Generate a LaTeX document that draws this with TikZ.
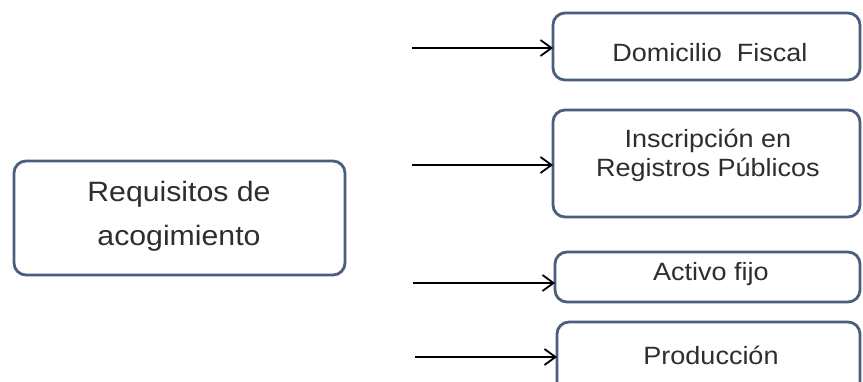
\documentclass[tikz,border=0pt]{standalone}
\usepackage{fontspec}
\setmainfont{Liberation Sans}
\newfontfamily\boxfont[FakeStretch=1.08]{Liberation Sans}
\usetikzlibrary{arrows.meta}
\definecolor{boxline}{HTML}{4A5F7E}
\definecolor{txt}{HTML}{2E2E2E}
\tikzset{
  rbox/.style={draw=boxline, line width=2.8pt, rounded corners=12pt, fill=white},
  lbl/.style={text=txt, font=\boxfont\fontsize{25}{29}\selectfont, align=center, inner sep=0pt},
  conn/.style={line width=1.9pt, -{Straight Barb[length=11pt,width=16pt,line width=1.8pt]}}
}
\begin{document}
\begin{tikzpicture}[x=1pt,y=-1pt]
\useasboundingbox (0,0) rectangle (863,382);
\clip (0,0) rectangle (863,382);
\fill[white] (0,0) rectangle (863,382);
% left box
\draw[rbox] (14,161) rectangle (345,275);
\node[lbl, font=\boxfont\fontsize{28}{44}\selectfont] (req) at (179,216) {Requisitos de\\acogimiento};
% right boxes
\draw[rbox] (553,13) rectangle (860,80);
\node[lbl] (dom) at (710,53) {Domicilio\ \ Fiscal};
\draw[rbox] (553,110) rectangle (860,217);
\node[lbl] (ins) at (708,155) {Inscripción en\\Registros Públicos};
\draw[rbox] (555,252) rectangle (860,302);
\node[lbl] (act) at (711,274) {Activo fijo};
\draw[rbox] (557,322) rectangle (860,395);
\node[lbl] (pro) at (711,355) {Producción};
% arrows
\coordinate (a1) at (412,48);
\coordinate (b1) at (553,48);
\coordinate (a2) at (412,165);
\coordinate (b2) at (553,165);
\coordinate (a3) at (413,283);
\coordinate (b3) at (555,283);
\coordinate (a4) at (415,357);
\coordinate (b4) at (557,357);
\draw[conn] (a1) -- (b1);
\draw[conn] (a2) -- (b2);
\draw[conn] (a3) -- (b3);
\draw[conn] (a4) -- (b4);
\end{tikzpicture}
\end{document}
